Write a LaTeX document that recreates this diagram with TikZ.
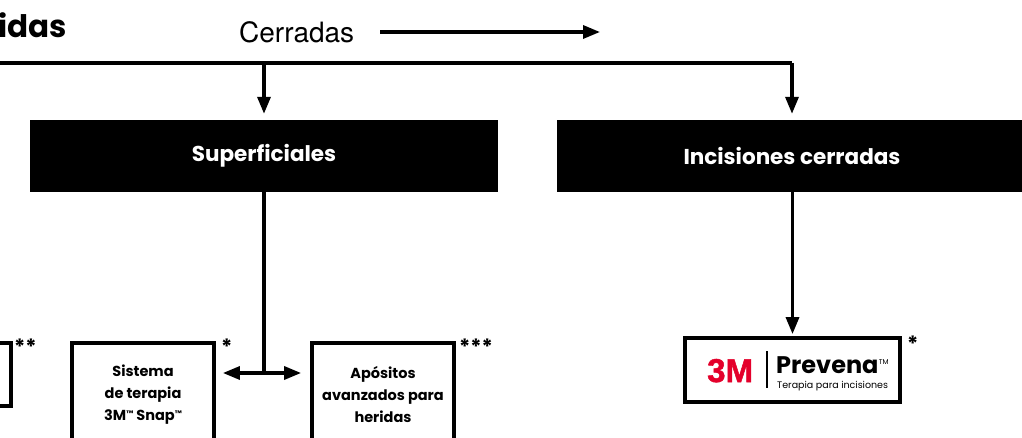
\documentclass[tikz,border=0pt]{standalone}
\usepackage{fontspec}
\setmainfont{Poppins}
\newfontfamily\helv{TeX Gyre Heros}
\newfontfamily\logofont[FakeBold=1.5]{Liberation Sans Bold}
\usetikzlibrary{arrows.meta,positioning}
\definecolor{mmmred}{HTML}{E4002B}
\newcommand{\smalltm}{\raisebox{4pt}{\fontsize{8}{8}\selectfont ™}}
\tikzset{
  line/.style={line width=3.3pt},
  conn/.style={line width=3.3pt,-{Triangle[length=17pt,width=13pt]}},
  darkbox/.style={fill=black,text=white,inner sep=0pt,minimum height=72pt,font=\fontsize{21.5}{22}\selectfont\bfseries},
  whitebox/.style={draw=black,line width=3.8pt,fill=white,inner sep=0pt,align=center,font=\fontsize{14.5}{22}\selectfont\bfseries},
  starlbl/.style={anchor=north west,inner sep=0pt,font=\fontsize{21}{21}\selectfont\bfseries}
}
\begin{document}
\begin{tikzpicture}[x=1pt,y=-1pt]
\useasboundingbox (0,0) rectangle (1022,438);
\clip (0,0) rectangle (1022,438);
% title and legend
\node[anchor=base west,inner sep=0pt,font=\fontsize{31}{31}\selectfont\bfseries] (title) at (-2,38) {idas};
\node[anchor=west,inner sep=0pt,font=\helv\fontsize{28}{28}\selectfont] (cerr) at (239,32) {Cerradas};
\coordinate (ca) at (380,32);
\coordinate (cb) at (600,32);
\draw[conn] (ca) -- (cb);
% boxes
\node[darkbox,minimum width=468pt] (sup) at (264,156) {Superficiales};
\node[darkbox,minimum width=470pt] (inc) at (792,156) {Incisiones cerradas};
\node[whitebox,minimum width=142pt,minimum height=104pt] (sis) at (143,395) {Sistema\\de terapia\\3M\smalltm\ Snap\smalltm};
\node[whitebox,minimum width=142pt,minimum height=104pt] (apo) at (383,395) {Apósitos\\avanzados para\\heridas};
\node[whitebox,minimum width=24pt,minimum height=63pt] (lft) at (-1,374.5) {};
\node[whitebox,minimum width=215pt,minimum height=64pt] (prev) at (792.5,370) {};
% stars
\node[starlbl] (s1) at (14,339) {**};
\node[starlbl] (s2) at (221,339) {*};
\node[starlbl] (s3) at (459,339) {***};
\node[starlbl] (s4) at (907,336) {*};
% top connectors
\coordinate (tl) at (0,63);
\coordinate (tm) at (264,63);
\coordinate (tr) at (792,63);
\draw[line] (tl) -- (tr);
\draw[conn,shorten >=6pt] (tr) -- (tr |- inc.north);
\draw[conn,shorten >=6pt] (tm) -- (sup.north);
% superficiales branch
\coordinate (j) at (264,373);
\draw[line] (sup.south) -- (j);
\draw[conn] (j) -- ([xshift=7pt]sis.east |- j);
\draw[conn] (j) -- ([xshift=-9pt]apo.west |- j);
% incisiones branch
\draw[conn,shorten >=2pt] (inc.south -| prev.north) -- (prev.north);
% Prevena logo
\node[anchor=base west,inner sep=0pt,text=mmmred,font=\logofont\fontsize{33}{33}\selectfont] (logo) at (707,382) {3M};
\coordinate (dv1) at (767,351);
\coordinate (dv2) at (767,388);
\draw[line width=1.4pt] (dv1) -- (dv2);
\node[anchor=base west,inner sep=0pt,font=\fontsize{24}{24}\selectfont\bfseries] (pname) at (776,373) {Prevena};
\node[anchor=north west,inner sep=0pt,font=\fontsize{7}{7}\selectfont] (ptm) at ([yshift=-3pt]pname.north east) {TM};
\node[anchor=base west,inner sep=0pt,font=\fontsize{9.5}{9.5}\selectfont] (psub) at (777,388) {Terapia para incisiones};
\end{tikzpicture}
\end{document}
